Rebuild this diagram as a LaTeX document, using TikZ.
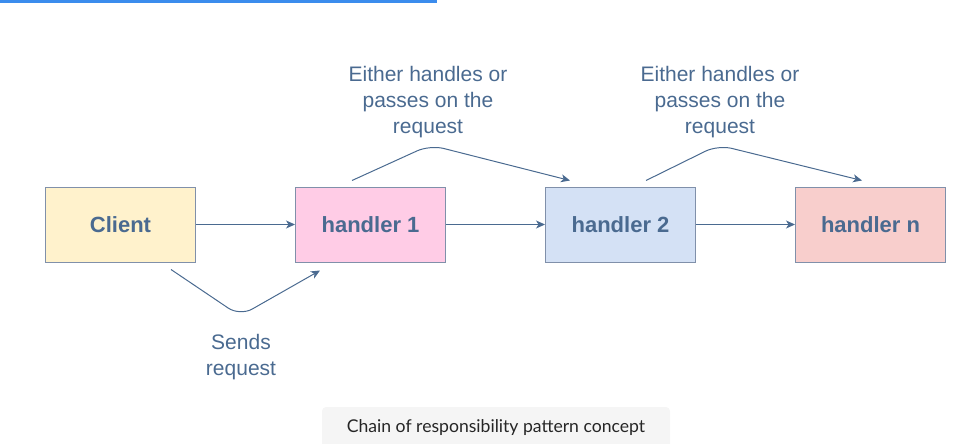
\documentclass[tikz,border=0pt]{standalone}
\usepackage{fontspec}
\setmainfont{Liberation Sans}
\newfontfamily\capfont{Lato}
\usepackage{tikz}
\usetikzlibrary{arrows.meta, calc}
\definecolor{ink}{RGB}{74, 106, 144}
\definecolor{edge}{RGB}{128, 144, 170}
\definecolor{topblue}{RGB}{59, 140, 237}
\definecolor{clientfill}{RGB}{255, 242, 204}
\definecolor{onefill}{RGB}{255, 204, 230}
\definecolor{twofill}{RGB}{212, 225, 245}
\definecolor{nfill}{RGB}{248, 206, 204}
\definecolor{capgray}{RGB}{245, 245, 245}

\begin{document}
\begin{tikzpicture}[x=1pt, y=-1pt,
  box/.style={draw=edge, line width=1pt, minimum width=150pt, minimum height=75pt,
    text=ink, font=\fontsize{22}{26}\selectfont\bfseries},
  flow/.style={draw=ink, line width=1pt, -{Stealth[length=9pt, width=8pt, inset=2.5pt]}},
  note/.style={text=ink, align=center, font=\fontsize{21}{26}\selectfont},
  capbox/.style={fill=capgray, rounded corners=4pt, minimum width=348pt, minimum height=42pt,
    text=black!85, font=\capfont\fontsize{17.6}{20}\selectfont}]
  \useasboundingbox (0, 0) rectangle (959, 444);

  \draw[color=topblue, line width=3pt] (0, 1.5) -- (437, 1.5);

  \node[box, fill=clientfill] (client) at (120.5, 224.5) {Client};
  \node[box, fill=onefill] (hone) at (370.5, 224.5) {handler 1};
  \node[box, fill=twofill] (htwo) at (620.5, 224.5) {handler 2};
  \node[box, fill=nfill] (hn) at (870.5, 224.5) {handler n};

  \draw[flow] (client) -- (hone);
  \draw[flow] (hone) -- (htwo);
  \draw[flow] (htwo) -- (hn);

  \coordinate (bendsend) at (240, 316);
  \coordinate (bendone) at (430, 145);
  \coordinate (bendtwo) at (718, 145);

  \draw[flow, rounded corners=14pt] ([shift={(50.5pt, -7pt)}]client.south) -- (bendsend)
    -- ([shift={(-50.5pt, -8pt)}]hone.south);
  \draw[flow, rounded corners=14pt] ([shift={(-18.5pt, 6pt)}]hone.north) -- (bendone)
    -- ([shift={(-50.5pt, 6pt)}]htwo.north);
  \draw[flow, rounded corners=14pt] ([shift={(25.5pt, 6pt)}]htwo.north) -- (bendtwo)
    -- ([shift={(-8.5pt, 6pt)}]hn.north);

  \node[note] (passone) at (428, 102) {Either handles or\\passes on the\\request};
  \node[note] (passtwo) at (720, 102) {Either handles or\\passes on the\\request};
  \node[note] (sends) at (241, 357) {Sends\\request};

  \node[capbox] (caption) at (496, 428) {Chain of responsibility pattern concept};
\end{tikzpicture}
\end{document}
